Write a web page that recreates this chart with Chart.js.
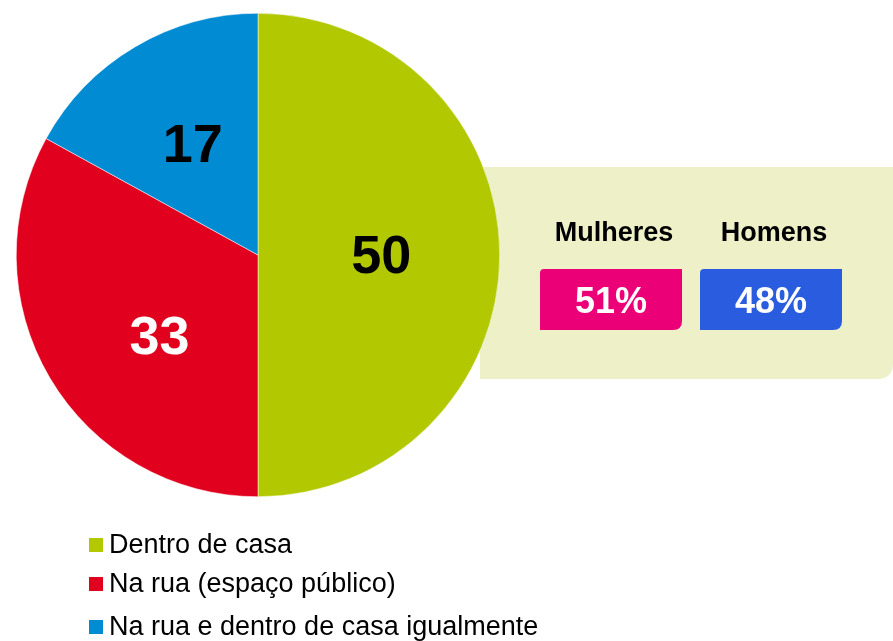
<!DOCTYPE html>
<html>
<head>
<meta charset="utf-8">
<script src="https://cdn.jsdelivr.net/npm/chart.js@4/dist/chart.umd.min.js"></script>
<style>
  html, body { margin: 0; padding: 0; background: #fff; }
  canvas { display: block; }
</style>
</head>
<body>
<canvas id="c" width="893" height="641"></canvas>
<script>
const categories = ['Dentro de casa', 'Na rua (espaço público)', 'Na rua e dentro de casa igualmente'];
const values = [50, 33, 17];
const sliceColors = ['#b2c800', '#e2001f', '#008bd2'];
const labelColors = ['#000000', '#ffffff', '#000000'];

const genderLabels = ['Mulheres', 'Homens'];
const genderValues = [51, 48];
const genderColors = ['#ec0077', '#2a5ce0'];

const FONT = '"Liberation Sans", Arial, sans-serif';
// small nudges for the slice labels, to sit like the original
const labelNudge = [0.01, -0.16, 0];
const labelRadius = [0.51, 0.53, 0.53];

function roundRect(g, x, y, w, h, radii) {
  const [tl, tr, br, bl] = radii;
  g.beginPath();
  g.moveTo(x + tl, y);
  g.lineTo(x + w - tr, y);
  g.quadraticCurveTo(x + w, y, x + w, y + tr);
  g.lineTo(x + w, y + h - br);
  g.quadraticCurveTo(x + w, y + h, x + w - br, y + h);
  g.lineTo(x + bl, y + h);
  g.quadraticCurveTo(x, y + h, x, y + h - bl);
  g.lineTo(x, y + tl);
  g.quadraticCurveTo(x, y, x + tl, y);
  g.closePath();
}

// light panel behind the pie
const panelPlugin = {
  id: 'panel',
  beforeDraw(chart) {
    const g = chart.ctx;
    g.save();
    g.fillStyle = '#eef0c8';
    roundRect(g, 480, 167, 413, 212, [0, 0, 16, 0]);
    g.fill();
    g.restore();
  }
};

// value labels on slices, gender boxes, legend
const overlayPlugin = {
  id: 'overlay',
  afterDraw(chart) {
    const g = chart.ctx;
    const meta = chart.getDatasetMeta(0);
    g.save();
    g.textAlign = 'center';
    g.textBaseline = 'middle';
    g.font = 'bold 54px ' + FONT;
    meta.data.forEach((arc, i) => {
      const mid = (arc.startAngle + arc.endAngle) / 2 + labelNudge[i];
      const r = arc.outerRadius * labelRadius[i];
      g.fillStyle = labelColors[i];
      g.fillText(String(values[i]), arc.x + Math.cos(mid) * r, arc.y + Math.sin(mid) * r + 2);
    });

    // gender boxes
    genderLabels.forEach((lab, i) => {
      const x = 540 + i * 160, w = 142;
      g.fillStyle = '#000';
      g.font = 'bold 27px ' + FONT;
      g.textBaseline = 'alphabetic';
      g.fillText(lab, x + w / 2 + 3, 241);
      g.fillStyle = genderColors[i];
      roundRect(g, x, 269, w, 61, [4, 0, 9, 0]);
      g.fill();
      g.fillStyle = '#fff';
      g.font = 'bold 36px ' + FONT;
      g.fillText(genderValues[i] + '%', x + w / 2, 313);
    });

    // legend
    g.textAlign = 'left';
    const baselines = [553, 592, 635];
    categories.forEach((c, i) => {
      g.fillStyle = sliceColors[i];
      g.fillRect(89, baselines[i] - 15, 14, 14);
      g.fillStyle = '#000';
      g.font = '27px ' + FONT;
      g.fillText(c, 109, baselines[i]);
    });
    g.restore();
  }
};

new Chart(document.getElementById('c'), {
  type: 'pie',
  data: {
    labels: categories,
    datasets: [{
      data: values,
      backgroundColor: sliceColors,
      borderColor: '#ffffff',
      borderWidth: 0.5
    }]
  },
  options: {
    responsive: false,
    animation: false,
    layout: { padding: { left: 16, top: 13, right: 393, bottom: 144 } },
    plugins: {
      legend: { display: false },
      tooltip: { enabled: false }
    }
  },
  plugins: [panelPlugin, overlayPlugin]
});
</script>
</body>
</html>
